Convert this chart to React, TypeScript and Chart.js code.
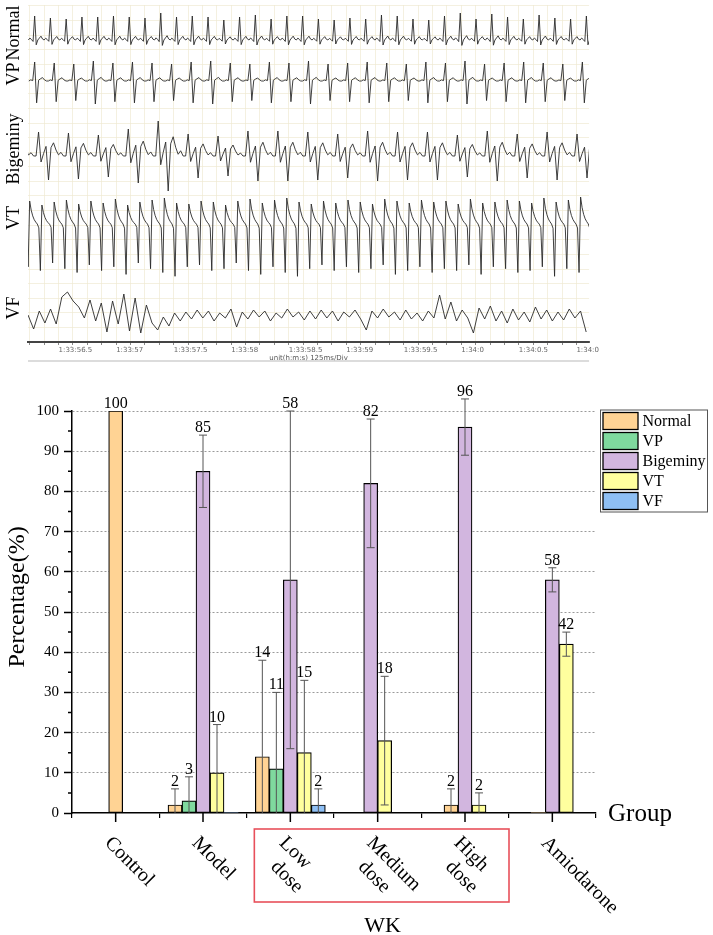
import React, { useEffect, useRef } from 'react';
import { Chart, registerables } from 'chart.js';

Chart.register(...registerables);

const SERIF = "'Times New Roman', 'Liberation Serif', serif";

// ECG strips (time in seconds after 1:33:00, amplitude in px-like units)
const ecgRows = ['Normal', 'VP', 'Bigeminy', 'VT', 'VF'];
const ecgOffsets = [302, 261, 186, 117, 27];
const ecgStart = [56.237, 56.241, 56.044, 56.142, 56.234];
const ecgPeriod = [0.137, 0.17, 0.26, 0.1064, 0.049];
const ecgMin = 56.234;
const ecgMax = 61.11;

const normalBeat = [0, 0.08, 0.02, -0.06, 1, -0.2, 0, 0.08, 0.16, 0.04];
const normalPeaks = [24, 22, 21, 23, 23, 24, 23, 22, 27, 23, 24, 23, 20, 23, 25, 21, 24, 24, 21, 20, 22, 21, 25, 24, 21, 20, 24, 27, 21, 26, 23, 21, 25, 22, 21, 24];
const vpBeat = [0, 0.06, 0.02, 1, -1.15, 0.04, 0.12, 0.18, 0.06, 0];
const vpPeaks = [19, 18, 17, 20, 18, 19, 18, 17, 19, 20, 18, 17, 19, 18, 20, 17, 18, 19, 18, 17, 19, 18, 20, 17, 18, 19, 18, 17, 19];
const bigeminyPair = [0, 1, -0.25, 0.1, 0.4, -1, 0.35, 0.55, 0.25, 0.05, 0.15, 0];
const bigeminyPeaks = [22, 24, 23, 21, 27, 35, 22, 20, 25, 25, 24, 22, 25, 24, 24, 21, 25, 22, 24, 22];
const vtCycle = [1, 0.62, 0.38, 0.22, 0.12, 0.04, -0.12, -1.9];
const vtPeaks = [22, 24, 20, 23, 25, 21, 24, 22, 26, 20, 23, 25, 27, 22, 21, 24, 23, 20, 24, 26, 22, 25, 27, 23, 21, 24, 22, 25, 23, 21, 26, 24, 22, 25, 23, 24, 21, 26, 22, 23, 25, 24, 22, 27, 23, 25, 28, 24];
const vfSamples = [
  0, -14, 4, -8, 6, -9, 18, 23, 14, 8, -3, 15, -6, 12, -17, 14, -9, 21, -16, 17, -18, 10, -8, -15,
  -2, -11, 2, -6, 3, -4, 5, -3, 4, -6, 2, -3, 6, -12,
  3, -4, 5, -2, 4, -6, 2, -3, 6, -2, 3, -5, 4, -4, 5, -3, 4, -6, 3, -2, 5, -4, -15,
  4, -3, 6, -2, 3, -5, 5, -4, 2, -6, 4, -3, 20, -4, 13, -6, 5, -3, -18,
  7, -4, 9, -6, 4, -8, 6, -5, 3, -7, 8, -4, 5, -6, 3, -5, 6, -3, 4, -17,
];
const timeTicks = [56.5, 57, 57.5, 58, 58.5, 59, 59.5, 60, 60.5, 61];
const timeLabels = ['1:33:56.5', '1:33:57', '1:33:57.5', '1:33:58', '1:33:58.5', '1:33:59', '1:33:59.5', '1:34:0', '1:34:0.5', '1:34:0'];

// Bar chart
const groups = [['Control'], ['Model'], ['Low', 'dose'], ['Medium', 'dose'], ['High', 'dose'], ['Amiodarone']];
const seriesNames = ['Normal', 'VP', 'Bigeminy', 'VT', 'VF'];
const seriesColors = ['#FFD394', '#7FD99E', '#D2B6DF', '#FFFF9E', '#8EBFF4'];
const normalPct = [100, 2, 14, null, 2, 0];
const vpPct = [null, 3, 11, null, null, null];
const bigeminyPct = [null, 85, 58, 82, 96, 58];
const vtPct = [null, 10, 15, 18, 2, 42];
const vfPct = [null, 0, 2, null, null, null];
const normalErr = [null, 4, 24, null, 4, null];
const vpErr = [null, 6, 19, null, null, null];
const bigeminyErr = [null, 9, 42, 16, 7, 3];
const vtErr = [null, 12, 18, 16, 3, 3];
const vfErr = [null, null, 4, null, null, null];

const barValues = [normalPct, vpPct, bigeminyPct, vtPct, vfPct];
const barErrors = [normalErr, vpErr, bigeminyErr, vtErr, vfErr];

function tile(start: number, period: number, shape: number[], amps: number[], offset: number) {
  const pts: { x: number; y: number }[] = [];
  amps.forEach((a, k) => {
    shape.forEach((s, j) => {
      pts.push({ x: start + (k + j / shape.length) * period, y: offset + a * s });
    });
  });
  return pts;
}

function ecgData() {
  const traces = [
    tile(ecgStart[0], ecgPeriod[0], normalBeat, normalPeaks, ecgOffsets[0]),
    tile(ecgStart[1], ecgPeriod[1], vpBeat, vpPeaks, ecgOffsets[1]),
    tile(ecgStart[2], ecgPeriod[2], bigeminyPair, bigeminyPeaks, ecgOffsets[2]),
    tile(ecgStart[3], ecgPeriod[3], vtCycle, vtPeaks, ecgOffsets[3]),
    vfSamples.map((v, i) => ({ x: ecgStart[4] + i * ecgPeriod[4], y: ecgOffsets[4] + v })),
  ];
  return traces;
}

const ecgDecor = {
  id: 'ecgDecor',
  afterDraw(chart: any) {
    const { ctx, chartArea: a, scales } = chart;
    ctx.save();
    ctx.fillStyle = '#000';
    ctx.font = `18px ${SERIF}`;
    ctx.textAlign = 'center';
    ctx.textBaseline = 'middle';
    ecgRows.forEach((name, i) => {
      const cy = scales.y.getPixelForValue(ecgOffsets[i]) - 7;
      ctx.save();
      ctx.translate(14, cy);
      ctx.rotate(-Math.PI / 2);
      ctx.fillText(name, 0, 0);
      ctx.restore();
    });
    ctx.strokeStyle = '#d0d0d0';
    ctx.lineWidth = 1.5;
    ctx.beginPath();
    ctx.moveTo(a.left, 361);
    ctx.lineTo(a.right, 361);
    ctx.stroke();
    ctx.restore();
  },
};

const barDecor = {
  id: 'barDecor',
  afterDatasetsDraw(chart: any) {
    const { ctx, scales } = chart;
    const y = scales.y;
    ctx.save();
    chart.data.datasets.forEach((ds: any, i: number) => {
      const meta = chart.getDatasetMeta(i);
      meta.data.forEach((el: any, j: number) => {
        const v = ds.data[j];
        if (v === null || v === 0) return;
        const e = barErrors[i][j];
        let topVal = v;
        if (e) {
          const hi = v + e;
          const lo = Math.max(v - e, 0);
          ctx.strokeStyle = '#555';
          ctx.lineWidth = 1;
          ctx.beginPath();
          ctx.moveTo(el.x, y.getPixelForValue(lo));
          ctx.lineTo(el.x, y.getPixelForValue(hi));
          ctx.moveTo(el.x - 4, y.getPixelForValue(hi));
          ctx.lineTo(el.x + 4, y.getPixelForValue(hi));
          if (v - e > 0) {
            ctx.moveTo(el.x - 4, y.getPixelForValue(lo));
            ctx.lineTo(el.x + 4, y.getPixelForValue(lo));
          }
          ctx.stroke();
          topVal = hi;
        }
        ctx.fillStyle = '#000';
        ctx.font = `16px ${SERIF}`;
        ctx.textAlign = 'center';
        ctx.textBaseline = 'alphabetic';
        ctx.fillText(String(v), el.x, y.getPixelForValue(topVal) - 3);
      });
    });
    ctx.restore();
  },
  afterDraw(chart: any) {
    const { ctx, chartArea: a, scales } = chart;
    const x = scales.x;
    const y = scales.y;
    ctx.save();
    ctx.strokeStyle = '#000';
    ctx.lineWidth = 1.5;
    ctx.beginPath();
    for (let v = 5; v < 100; v += 10) {
      const py = y.getPixelForValue(v);
      ctx.moveTo(a.left, py);
      ctx.lineTo(a.left - 4, py);
    }
    groups.forEach((_, i) => {
      const px = x.getPixelForValue(i);
      ctx.moveTo(px, a.bottom);
      ctx.lineTo(px, a.bottom + 9);
    });
    ctx.stroke();

    // category labels, rotated
    ctx.fillStyle = '#000';
    ctx.font = `20px ${SERIF}`;
    ctx.textAlign = 'left';
    ctx.textBaseline = 'top';
    groups.forEach((lines, i) => {
      const px = x.getPixelForValue(i);
      ctx.save();
      ctx.translate(px - 1, a.bottom + 20);
      ctx.rotate(Math.PI / 4);
      lines.forEach((ln, k) => ctx.fillText(ln, k * 11, k * 23));
      ctx.restore();
    });

    // red frame around dose groups
    ctx.strokeStyle = '#e8505b';
    ctx.lineWidth = 1.6;
    const bl = x.getPixelForValue(2) - 36;
    const br = x.getPixelForValue(4) + 44;
    ctx.strokeRect(bl, a.bottom + 16, br - bl, 73);

    // axis titles
    ctx.font = `25px ${SERIF}`;
    ctx.textAlign = 'left';
    ctx.textBaseline = 'alphabetic';
    ctx.fillText('Group', a.right + 12, a.bottom + 8);
    ctx.font = `22px ${SERIF}`;
    ctx.textAlign = 'center';
    ctx.fillText('WK', (x.getPixelForValue(2) + x.getPixelForValue(4)) / 2 + 5, a.bottom + 119);
    ctx.save();
    ctx.translate(18, (a.top + a.bottom) / 2 - 15);
    ctx.rotate(-Math.PI / 2);
    ctx.font = `24px ${SERIF}`;
    ctx.textBaseline = 'middle';
    ctx.fillText('Percentage(%)', 0, 0);
    ctx.restore();

    // legend
    const lx = a.right + 4.5;
    const ly = a.top - 1;
    ctx.fillStyle = '#fff';
    ctx.fillRect(lx, ly, 107, 102);
    ctx.strokeStyle = '#555';
    ctx.lineWidth = 1;
    ctx.strokeRect(lx, ly, 107, 102);
    ctx.font = `16px ${SERIF}`;
    ctx.textAlign = 'left';
    ctx.textBaseline = 'middle';
    chart.data.datasets.forEach((ds: any, i: number) => {
      const ty = ly + 2.5 + i * 20;
      ctx.fillStyle = ds.backgroundColor;
      ctx.fillRect(lx + 2.5, ty, 35, 17);
      ctx.strokeStyle = '#000';
      ctx.lineWidth = 1.3;
      ctx.strokeRect(lx + 2.5, ty, 35, 17);
      ctx.fillStyle = '#000';
      ctx.fillText(ds.label, lx + 42, ty + 9);
    });
    ctx.restore();
  },
};

export default function App() {
  const ecgRef = useRef<HTMLCanvasElement>(null);
  const barRef = useRef<HTMLCanvasElement>(null);

  useEffect(() => {
    if (!ecgRef.current || !barRef.current) return;
    const gridColor = '#efe9d3';

    const ecg = new Chart(ecgRef.current, {
      type: 'line',
      data: {
        datasets: ecgData().map((pts, i) => ({
          label: ecgRows[i],
          data: pts,
          borderColor: '#2a2a2a',
          borderWidth: 0.9,
          pointRadius: 0,
          tension: 0,
        })),
      },
      options: {
        responsive: false,
        animation: false,
        layout: { padding: { left: 28, right: 3, top: 5, bottom: 0 } },
        plugins: { legend: { display: false }, tooltip: { enabled: false } },
        scales: {
          x: {
            type: 'linear',
            min: ecgMin,
            max: ecgMax,
            ticks: {
              stepSize: 0.125,
              includeBounds: false,
              autoSkip: false,
              maxRotation: 0,
              minRotation: 0,
              align: 'start',
              padding: 1,
              color: '#666',
              font: { size: 7, family: 'DejaVu Sans' },
              callback: (value: any) => {
                const k = timeTicks.findIndex((t) => Math.abs(t - Number(value)) < 1e-6);
                return k >= 0 ? timeLabels[k] : '';
              },
            },
            grid: { color: gridColor, lineWidth: 0.7, tickLength: 3, tickColor: '#555' },
            border: { color: '#444', width: 2 },
            title: {
              display: true,
              text: 'unit(h:m:s) 125ms/Div',
              color: '#555',
              font: { size: 7, family: 'DejaVu Sans' },
              padding: 0,
            },
            afterFit: (s: any) => {
              s.height = 20;
            },
          },
          y: {
            min: 0,
            max: 337,
            ticks: { display: false, stepSize: 14.6 },
            grid: { color: gridColor, lineWidth: 0.7, drawTicks: false },
            border: { display: false },
            afterFit: (s: any) => {
              s.width = 0;
            },
          },
        },
      },
      plugins: [ecgDecor],
    } as any);

    const bar = new Chart(barRef.current, {
      type: 'bar',
      data: {
        labels: groups.map((g) => g.join(' ')),
        datasets: seriesNames.map((name, i) => ({
          label: name,
          data: barValues[i],
          backgroundColor: seriesColors[i],
          borderColor: '#000',
          borderWidth: (c: any) => (c.raw === 0 ? 0 : 1.2),
          borderSkipped: false,
          barThickness: 14,
          skipNull: true,
        })),
      },
      options: {
        responsive: false,
        animation: false,
        layout: { padding: { left: 0, top: 49, right: 117, bottom: 0 } },
        plugins: { legend: { display: false }, tooltip: { enabled: false } },
        scales: {
          x: {
            ticks: { display: false },
            grid: { display: true, drawOnChartArea: false, color: '#000', tickLength: 5, lineWidth: 1.2, offset: true },
            border: { color: '#000', width: 1.5 },
            afterFit: (s: any) => {
              s.height = 122;
            },
          },
          y: {
            min: 0,
            max: 100,
            ticks: { stepSize: 10, color: '#000', padding: 5, font: { size: 15, family: SERIF } },
            grid: {
              color: (c: any) => (c.tick && c.tick.value === 0 ? 'rgba(0,0,0,0)' : '#9a9a9a'),
              lineWidth: 1,
              tickColor: '#000',
              tickLength: 8,
              tickWidth: 1.5,
              tickBorderDash: [],
            },
            border: { color: '#000', width: 1.5, dash: [2, 2] },
            afterFit: (s: any) => {
              s.width = 72;
            },
          },
        },
      },
      plugins: [barDecor],
    } as any);

    return () => {
      ecg.destroy();
      bar.destroy();
    };
  }, []);

  return (
    <div style={{ position: 'absolute', left: 0, top: 0, width: 713, height: 935, background: '#fff' }}>
      <canvas ref={ecgRef} width={600} height={362} style={{ position: 'absolute', left: 0, top: 0 }} />
      <canvas ref={barRef} width={713} height={573} style={{ position: 'absolute', left: 0, top: 362 }} />
    </div>
  );
}
